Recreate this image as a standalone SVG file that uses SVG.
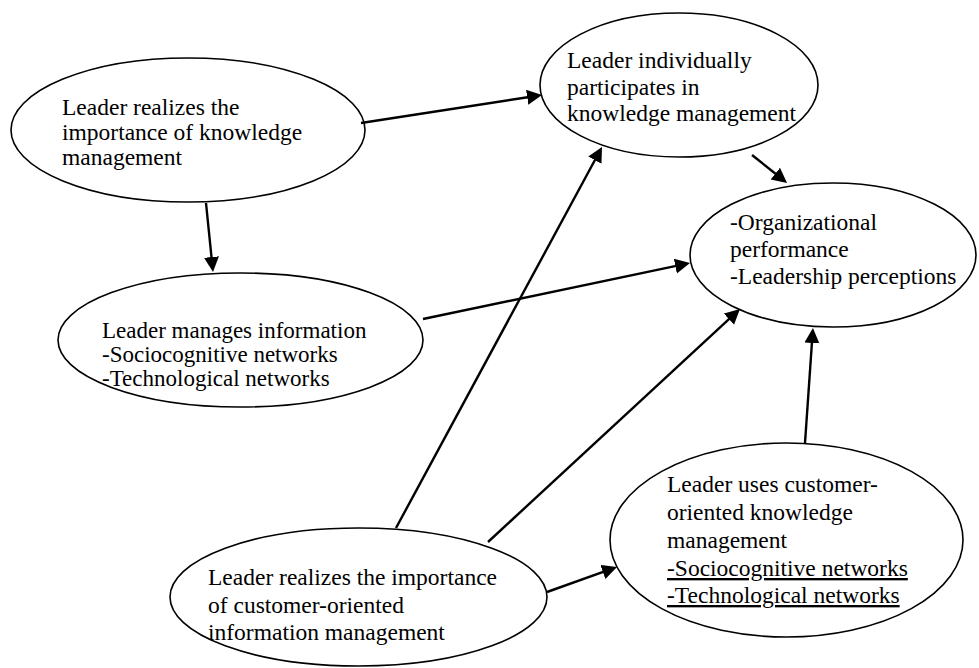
<svg xmlns="http://www.w3.org/2000/svg" width="979" height="668" viewBox="0 0 979 668">
<style>
  .node ellipse { fill: #ffffff; stroke: #000000; stroke-width: 1.6; }
  .node text { font-size: 23.5px; fill: #000000; }
  #n4 text { font-size: 23px; }
  .u { text-decoration: underline; }
  #connectors line { stroke: #000000; stroke-width: 2.4; marker-end: url(#arrow); }
</style>
<defs>
  <marker id="arrow" markerUnits="userSpaceOnUse" markerWidth="16" markerHeight="16" refX="7" refY="7.5" orient="auto">
    <path d="M0,0 L15,7.5 L0,15 Z" fill="#000000"/>
  </marker>
</defs>
<rect width="979" height="668" fill="#ffffff"/>

<g id="nodes" font-family="'Liberation Serif', 'DejaVu Serif', serif">
<g id="n1" class="node">
  <ellipse cx="188" cy="130" rx="177" ry="72"/>
  <text x="62" y="115">Leader realizes the</text>
  <text x="62" y="140">importance of knowledge</text>
  <text x="62" y="165">management</text>
</g>
<g id="n2" class="node">
  <ellipse cx="679" cy="85" rx="139" ry="72"/>
  <text x="567" y="68">Leader individually</text>
  <text x="567" y="95">participates in</text>
  <text x="567" y="121">knowledge management</text>
</g>
<g id="n3" class="node">
  <ellipse cx="833" cy="255" rx="143" ry="72"/>
  <text x="730" y="230">-Organizational</text>
  <text x="730" y="257">performance</text>
  <text x="730" y="284">-Leadership perceptions</text>
</g>
<g id="n4" class="node">
  <ellipse cx="240.5" cy="340" rx="182.5" ry="67"/>
  <text x="102" y="338">Leader manages information</text>
  <text x="102" y="362">-Sociocognitive networks</text>
  <text x="102" y="386">-Technological networks</text>
</g>
<g id="n5" class="node">
  <ellipse cx="786.5" cy="540" rx="176.5" ry="97"/>
  <text x="667" y="492">Leader uses customer-</text>
  <text x="667" y="520">oriented knowledge</text>
  <text x="667" y="548">management</text>
  <text x="667" y="576" class="u">-Sociocognitive networks</text>
  <text x="667" y="603" class="u">-Technological networks</text>
</g>
<g id="n6" class="node">
  <ellipse cx="358.5" cy="597" rx="188.5" ry="69"/>
  <text x="208" y="585">Leader realizes the importance</text>
  <text x="208" y="613">of customer-oriented</text>
  <text x="208" y="640">information management</text>
</g>
</g>

<g id="connectors">
  <line x1="361" y1="123" x2="534.1" y2="96.2"/>
  <line x1="206" y1="203" x2="212.2" y2="264"/>
  <line x1="752" y1="155" x2="780.8" y2="178"/>
  <line x1="423" y1="319" x2="682.2" y2="264.6"/>
  <line x1="396" y1="528" x2="598.2" y2="154"/>
  <line x1="488" y1="542" x2="734.1" y2="314.4"/>
  <line x1="805" y1="443" x2="812.4" y2="336"/>
  <line x1="547" y1="592" x2="609.5" y2="569.7"/>
</g>
</svg>
